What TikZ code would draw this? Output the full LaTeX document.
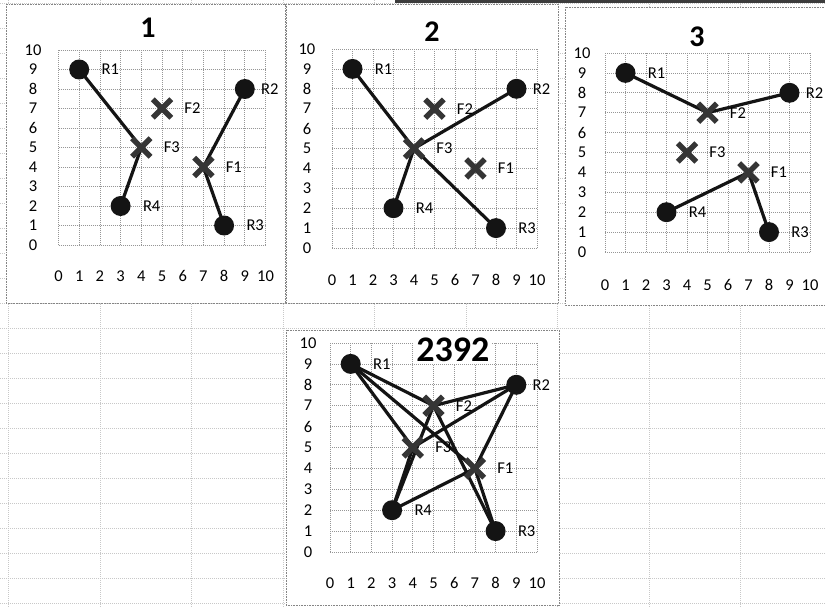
\documentclass[tikz,border=0pt]{standalone}
\usepackage{fontspec}
\setmainfont{Carlito}
\usetikzlibrary{positioning,shapes.misc}
\definecolor{sheetGray}{HTML}{C8C8C8}
\definecolor{gridGray}{HTML}{969696}
\definecolor{frameGray}{HTML}{858585}
\definecolor{markGray}{HTML}{353535}
\definecolor{inkBlack}{HTML}{141414}
\definecolor{barGray}{HTML}{3C3C3C}
\pgfdeclarelayer{sheet}
\pgfdeclarelayer{links}
\pgfsetlayers{sheet,links,main}
\tikzset{
    sheetline/.style={draw=sheetGray,line width=0.6pt,dash pattern=on 1pt off 1pt},
    chartframe/.style={draw=frameGray,fill=white,line width=0.8pt,dash pattern=on 1pt off 0.6pt},
    plotgrid/.style={draw=gridGray,line width=0.7pt,dash pattern=on 1pt off 1pt},
    rdot/.style={circle,fill=inkBlack,minimum size=20pt,inner sep=0pt},
    fmark/.style={cross out,draw=markGray,line width=5.5pt,minimum size=13pt,inner sep=0pt},
    link/.style={draw=inkBlack,line width=3.2pt},
    ptlabel/.style={font=\fontsize{16.5}{19}\selectfont,inner sep=1pt},
    axisnum/.style={font=\fontsize{16.5}{19}\selectfont,inner sep=0pt},
    charttitle/.style={font=\fontsize{30}{35}\selectfont\bfseries,inner sep=2pt}
}

\begin{document}
\begin{tikzpicture}[x=1pt,y=-1pt]
    \useasboundingbox (0,0) rectangle (825,607);
    % spreadsheet behind the charts
    \begin{pgfonlayer}{sheet}
        \fill[white] (0,0) rectangle (825,607);
        \foreach \k in {0,...,24}
            \draw[sheetline] (0,3+25*\k) -- (825,3+25*\k);
        \foreach \k in {0,...,8}
            \draw[sheetline] (8.5+91.5*\k,0) -- (8.5+91.5*\k,607);
        \draw[draw=barGray,line width=3pt] (395,1.5) -- (825,1.5);
        \draw[chartframe] (6,4) rectangle (285,303);
        \draw[chartframe] (286,4) rectangle (558,303);
        \draw[chartframe] (565,7) rectangle (827,305);
        \draw[chartframe] (286,330) rectangle (559,605);
    \end{pgfonlayer}

    % chart 1
    \begin{scope}[shift={(58.5pt,-245pt)},x=20.7pt,y=19.5pt]
        \begin{pgfonlayer}{sheet}
            \foreach \k in {0,...,10} {
                \draw[plotgrid] (\k,0) -- (\k,10);
                \draw[plotgrid] (0,\k) -- (10,\k);
            }
        \end{pgfonlayer}
        \node[charttitle] (a-title) at (4.32,11.13) {1};
        \foreach \v in {0,...,10} {
            \node[axisnum] (a-y\v) at (-1.23,\v) {\v};
            \node[axisnum] (a-x\v) at (\v,-1.59) {\v};
        }
        \foreach \n/\px/\py in {R1/1/9,R2/9/8,R3/8/1,R4/3/2}
            \node[rdot] (a-\n) at (\px,\py) {};
        \foreach \n/\px/\py in {F1/7/4,F2/5/7,F3/4/5}
            \node[fmark] (a-\n) at (\px,\py) {};
        \foreach \n/\gap in {R1/11pt,R2/5pt,R3/11pt,R4/11pt,F1/12pt,F2/12pt,F3/12pt}
            \node[ptlabel,right=\gap of a-\n] (a-\n-lbl) {\n};
        \begin{pgfonlayer}{links}
            \foreach \r/\f in {R1/F3,R4/F3,R2/F1,R3/F1}
                \draw[link] (a-\r.center) -- (a-\f.center);
        \end{pgfonlayer}
    \end{scope}

    % chart 2
    \begin{scope}[shift={(332pt,-248pt)},x=20.5pt,y=19.9pt]
        \begin{pgfonlayer}{sheet}
            \foreach \k in {0,...,10} {
                \draw[plotgrid] (\k,0) -- (\k,10);
                \draw[plotgrid] (0,\k) -- (10,\k);
            }
        \end{pgfonlayer}
        \node[charttitle] (b-title) at (4.88,10.85) {2};
        \foreach \v in {0,...,10} {
            \node[axisnum] (b-y\v) at (-1.22,\v) {\v};
            \node[axisnum] (b-x\v) at (\v,-1.61) {\v};
        }
        \foreach \n/\px/\py in {R1/1/9,R2/9/8,R3/8/1,R4/3/2}
            \node[rdot] (b-\n) at (\px,\py) {};
        \foreach \n/\px/\py in {F1/7/4,F2/5/7,F3/4/5}
            \node[fmark] (b-\n) at (\px,\py) {};
        \foreach \n/\gap in {R1/11pt,R2/5pt,R3/11pt,R4/11pt,F1/12pt,F2/12pt,F3/12pt}
            \node[ptlabel,right=\gap of b-\n] (b-\n-lbl) {\n};
        \begin{pgfonlayer}{links}
            \foreach \r/\f in {R1/F3,R2/F3,R3/F3,R4/F3}
                \draw[link] (b-\r.center) -- (b-\f.center);
        \end{pgfonlayer}
    \end{scope}

    % chart 3
    \begin{scope}[shift={(605pt,-252pt)},x=20.5pt,y=19.9pt]
        \begin{pgfonlayer}{sheet}
            \foreach \k in {0,...,10} {
                \draw[plotgrid] (\k,0) -- (\k,10);
                \draw[plotgrid] (0,\k) -- (10,\k);
            }
        \end{pgfonlayer}
        \node[charttitle] (c-title) at (4.49,10.80) {3};
        \foreach \v in {0,...,10} {
            \node[axisnum] (c-y\v) at (-1.12,\v) {\v};
            \node[axisnum] (c-x\v) at (\v,-1.66) {\v};
        }
        \foreach \n/\px/\py in {R1/1/9,R2/9/8,R3/8/1,R4/3/2}
            \node[rdot] (c-\n) at (\px,\py) {};
        \foreach \n/\px/\py in {F1/7/4,F2/5/7,F3/4/5}
            \node[fmark] (c-\n) at (\px,\py) {};
        \foreach \n/\gap in {R1/11pt,R2/5pt,R3/11pt,R4/11pt,F1/12pt,F2/12pt,F3/12pt}
            \node[ptlabel,right=\gap of c-\n] (c-\n-lbl) {\n};
        \begin{pgfonlayer}{links}
            \foreach \r/\f in {R1/F2,R2/F2,R4/F1,R3/F1}
                \draw[link] (c-\r.center) -- (c-\f.center);
        \end{pgfonlayer}
    \end{scope}

    % chart 2392
    \begin{scope}[shift={(330pt,-552pt)},x=20.7pt,y=20.9pt]
        \begin{pgfonlayer}{sheet}
            \foreach \k in {0,...,10} {
                \draw[plotgrid] (\k,0) -- (\k,10);
                \draw[plotgrid] (0,\k) -- (10,\k);
            }
        \end{pgfonlayer}
        \node[charttitle,fill=white,font=\fontsize{36}{40}\selectfont\bfseries] (d-title) at (5.94,9.67) {2392};
        \foreach \v in {0,...,10} {
            \node[axisnum] (d-y\v) at (-1.06,\v) {\v};
            \node[axisnum] (d-x\v) at (\v,-1.48) {\v};
        }
        \foreach \n/\px/\py in {R1/1/9,R2/9/8,R3/8/1,R4/3/2}
            \node[rdot] (d-\n) at (\px,\py) {};
        \foreach \n/\px/\py in {F1/7/4,F2/5/7,F3/4/5}
            \node[fmark] (d-\n) at (\px,\py) {};
        \foreach \n/\gap in {R1/11pt,R2/5pt,R3/11pt,R4/11pt,F1/12pt,F2/12pt,F3/12pt}
            \node[ptlabel,right=\gap of d-\n] (d-\n-lbl) {\n};
        \begin{pgfonlayer}{links}
            \foreach \r/\f in {R1/F1,R1/F2,R1/F3,R2/F1,R2/F2,R2/F3,R3/F1,R3/F2,R4/F1,R4/F2,R4/F3}
                \draw[link] (d-\r.center) -- (d-\f.center);
        \end{pgfonlayer}
    \end{scope}
\end{tikzpicture}
\end{document}
